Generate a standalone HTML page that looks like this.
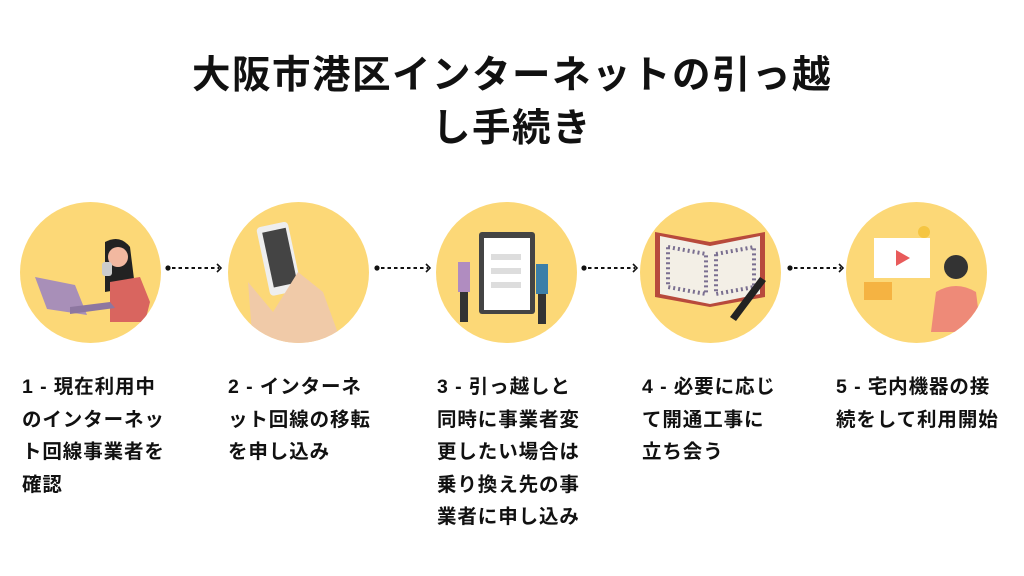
<!DOCTYPE html>
<html><head><meta charset="utf-8"><style>
body{margin:0;width:1024px;height:576px;background:#fff;position:relative;overflow:hidden;font-family:"Liberation Sans","Noto Sans CJK JP",sans-serif;color:#111}
.t{position:absolute;left:0;width:1024px;text-align:center;font-weight:bold;font-size:38.5px;line-height:53px;top:49px;letter-spacing:1.5px}
.c{position:absolute;top:202px;width:141px;height:141px;border-radius:50%;background:#fcd877;overflow:hidden}
.l{position:absolute;top:371px;font-size:19.5px;line-height:32.5px;font-weight:bold;letter-spacing:0.9px}
svg.a{position:absolute;top:262px}
</style></head><body>
<div class="t">大阪市港区インターネットの引っ越<br>し手続き</div>

<div class="c" style="left:20px"><svg width="141" height="141">
<path d="M85 40 q15-8 25 5 l5 40 l-30 5z" fill="#222"/>
<path d="M90 80 l30-5 l10 25 l-5 20 l-35 0z" fill="#d9655f"/>
<circle cx="98" cy="55" r="10" fill="#f2b8a0"/>
<rect x="82" y="60" width="10" height="14" rx="3" fill="#ccc"/>
<path d="M15 75 l40 8 l12 30 l-40 -6z" fill="#a88fb8"/>
<path d="M50 105 l40 -5 l5 6 l-45 6z" fill="#8d77a0"/>
</svg></div>
<div class="c" style="left:228px"><svg width="141" height="141">
<rect x="35" y="22" width="32" height="70" rx="4" fill="#eee" transform="rotate(-12 50 57)"/>
<rect x="40" y="28" width="24" height="56" fill="#444" transform="rotate(-12 50 57)"/>
<path d="M20 80 l25 30 l25-40 l25 20 l20 55 l-90 0z" fill="#f0caa8"/>
</svg></div>
<div class="c" style="left:436px"><svg width="141" height="141">
<rect x="43" y="30" width="56" height="82" rx="3" fill="#444"/>
<rect x="48" y="36" width="46" height="72" fill="#fff"/>
<rect x="55" y="52" width="30" height="6" fill="#ddd"/><rect x="55" y="66" width="30" height="6" fill="#ddd"/><rect x="55" y="80" width="30" height="6" fill="#ddd"/>
<rect x="22" y="60" width="12" height="30" fill="#b08cc0"/><rect x="24" y="90" width="8" height="30" fill="#333"/>
<rect x="100" y="62" width="12" height="30" fill="#3c7fa8"/><rect x="102" y="92" width="8" height="30" fill="#333"/>
</svg></div>
<div class="c" style="left:640px"><svg width="141" height="141">
<path d="M15 30 l55 10 l55-10 l0 65 l-55 10 l-55-10z" fill="#b84a3c"/>
<path d="M20 34 l50 10 l50-10 l0 58 l-50 10 l-50-10z" fill="#f3efe6"/>
<path d="M28 45 l38 7 v40 l-38-7z M76 52 l38-7 v40 l-38 7z" fill="none" stroke="#7a6f90" stroke-width="4" stroke-dasharray="2 3"/>
<path d="M90 115 l30-40 l6 4 l-30 40z" fill="#222"/>
</svg></div>
<div class="c" style="left:846px"><svg width="141" height="141">
<rect x="28" y="36" width="56" height="40" fill="#fff"/>
<path d="M50 48 l14 8 l-14 8z" fill="#e85b5b"/>
<rect x="18" y="80" width="28" height="18" fill="#f5b342"/>
<circle cx="110" cy="65" r="12" fill="#333"/>
<path d="M90 90 q20-12 40 0 l5 40 h-50z" fill="#ee8a78"/>
<circle cx="78" cy="30" r="6" fill="#f5c542"/>
</svg></div>

<svg class="a" style="left:165px" width="60" height="12"><circle cx="3" cy="6" r="2.6" fill="#111"/><line x1="7" y1="6" x2="54" y2="6" stroke="#111" stroke-width="2" stroke-dasharray="3.5 3"/><path d="M52 2 l4 4 l-4 4" fill="none" stroke="#111" stroke-width="1.6"/></svg>
<svg class="a" style="left:374px" width="60" height="12"><circle cx="3" cy="6" r="2.6" fill="#111"/><line x1="7" y1="6" x2="54" y2="6" stroke="#111" stroke-width="2" stroke-dasharray="3.5 3"/><path d="M52 2 l4 4 l-4 4" fill="none" stroke="#111" stroke-width="1.6"/></svg>
<svg class="a" style="left:581px" width="60" height="12"><circle cx="3" cy="6" r="2.6" fill="#111"/><line x1="7" y1="6" x2="54" y2="6" stroke="#111" stroke-width="2" stroke-dasharray="3.5 3"/><path d="M52 2 l4 4 l-4 4" fill="none" stroke="#111" stroke-width="1.6"/></svg>
<svg class="a" style="left:787px" width="60" height="12"><circle cx="3" cy="6" r="2.6" fill="#111"/><line x1="7" y1="6" x2="54" y2="6" stroke="#111" stroke-width="2" stroke-dasharray="3.5 3"/><path d="M52 2 l4 4 l-4 4" fill="none" stroke="#111" stroke-width="1.6"/></svg>

<div class="l" style="left:22px">1 - 現在利用中<br>のインターネッ<br>ト回線事業者を<br>確認</div>
<div class="l" style="left:228px">2 - インターネ<br>ット回線の移転<br>を申し込み</div>
<div class="l" style="left:437px">3 - 引っ越しと<br>同時に事業者変<br>更したい場合は<br>乗り換え先の事<br>業者に申し込み</div>
<div class="l" style="left:642px">4 - 必要に応じ<br>て開通工事に<br>立ち会う</div>
<div class="l" style="left:836px">5 - 宅内機器の接<br>続をして利用開始</div>
</body></html>
